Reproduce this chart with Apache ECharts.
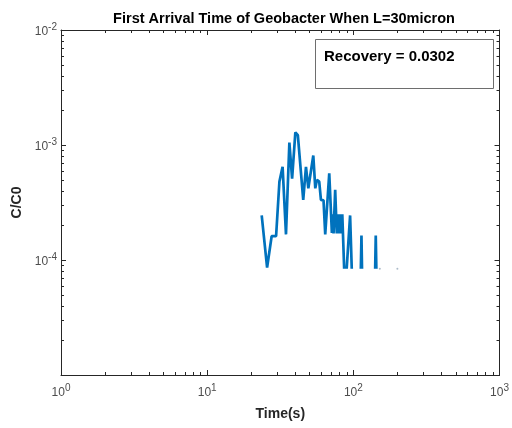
<!DOCTYPE html>
<html>
<head>
<meta charset="utf-8">
<script src="https://cdn.jsdelivr.net/npm/echarts@6/dist/echarts.min.js"></script>
<style>html,body{margin:0;padding:0;background:#fff;}#c{width:512px;height:428px;}</style>
</head>
<body>
<div id="c"></div>
<script>
// ---- data ----
var titleText = 'First Arrival Time of Geobacter When L=30micron';
var xName = 'Time(s)';
var yName = 'C/C0';
var recoveryText = 'Recovery = 0.0302';
var xRange = [1, 1000];
var yRange = [1e-5, 1e-2];
// time (s)
var times = [23.6, 25.7, 27.6, 29.6, 31.2, 32.8, 34.6, 36.5, 38.1, 40.1, 41.7, 45.4, 47.4, 49.2, 53.2, 54.9, 56.3, 58.4, 60.0, 62.5,
             64.2, 68.4, 71.3, 72.2, 73.2, 75.1, 77.0, 78.0, 79.0, 80.0, 81.0, 82.0, 83.0, 84.0, 85.0, 86.5, null,
             90.0, 95.0, 97.5, null, 112.5, 113.6, 114.6, null, 141.0, 142.3, 143.6];
// C/C0
var conc = [2.44e-4, 0.86e-4, 1.61e-4, 1.61e-4, 4.8e-4, 6.46e-4, 1.67e-4, 1.05e-3, 5.1e-4, 1.29e-3, 1.22e-3, 3.33e-4, 6.46e-4, 4.2e-4, 8.1e-4, 4.2e-4, 4.97e-4, 4.8e-4, 3.33e-4, 3.3e-4,
            1.67e-4, 5.66e-4, 1.72e-4, 2.5e-4, 1.7e-4, 4.07e-4, 1.7e-4, 2.5e-4, 1.7e-4, 2.5e-4, 1.7e-4, 2.5e-4, 1.7e-4, 2.5e-4, 2.5e-4, 0.84e-4, null,
            0.84e-4, 2.44e-4, 0.84e-4, null, 0.84e-4, 1.63e-4, 0.84e-4, null, 0.84e-4, 1.63e-4, 0.84e-4];
// isolated single samples
var dotTimes = [151.7, 200.0];
var dotConc = [0.84e-4, 0.84e-4];

var lineData = times.map(function (t, i) { return t === null ? null : [t, conc[i]]; });
var dotData = dotTimes.map(function (t, i) { return [t, dotConc[i]]; });

// minor tick positions (2..9 per decade)
function minorTicks(lo, hi) {
  var out = [];
  for (var d = Math.floor(Math.log10(lo)); d < Math.ceil(Math.log10(hi)); d++) {
    for (var k = 2; k <= 9; k++) {
      var v = k * Math.pow(10, d);
      if (v > lo && v < hi) out.push(v);
    }
  }
  return out;
}
var xMinor = minorTicks(xRange[0], xRange[1]);
var yMinor = minorTicks(yRange[0], yRange[1]);

var axisColor = '#262626';
var labelColor = '#4d4d4d';
var fontFam = 'Liberation Sans';
function expLabel(v) {
  var e = Math.round(Math.log10(v));
  return '{b|10}{e|' + e + '}';
}
var richLab = {
  b: { fontSize: 12, color: labelColor, fontFamily: fontFam, lineHeight: 16, verticalAlign: 'bottom' },
  e: { fontSize: 10, color: labelColor, fontFamily: fontFam, lineHeight: 16, verticalAlign: 'top' }
};

var chart = echarts.init(document.getElementById('c'), null, { renderer: 'canvas' });
var grid = { left: 61, right: 11, top: 30, bottom: 53 };
chart.setOption({
  animation: false,
  backgroundColor: '#ffffff',
  title: {
    text: titleText, left: 279, top: 6, textAlign: 'center',
    textStyle: { fontSize: 14.5, fontWeight: 'bold', color: '#000', fontFamily: fontFam }
  },
  grid: grid,
  xAxis: [{
    type: 'log', logBase: 10, min: xRange[0], max: xRange[1], position: 'bottom',
    name: xName, nameLocation: 'middle', nameGap: 32,
    nameTextStyle: { fontSize: 14, fontWeight: 'bold', color: axisColor, fontFamily: fontFam },
    axisLine: { show: true, lineStyle: { color: axisColor, width: 1 } },
    axisTick: { show: true, inside: true, length: 5, lineStyle: { color: axisColor } },
    splitLine: { show: false },
    axisLabel: { formatter: expLabel, rich: richLab, margin: 8 }
  }, {
    type: 'log', logBase: 10, min: xRange[0], max: xRange[1], position: 'top',
    axisLine: { show: true, lineStyle: { color: axisColor, width: 1 } },
    axisTick: { show: true, inside: true, length: 5, lineStyle: { color: axisColor } },
    splitLine: { show: false }, axisLabel: { show: false }
  }],
  yAxis: [{
    type: 'log', logBase: 10, min: yRange[0], max: yRange[1], position: 'left',
    name: yName, nameLocation: 'middle', nameGap: 37, nameRotate: 90,
    nameTextStyle: { fontSize: 14, fontWeight: 'bold', color: axisColor, fontFamily: fontFam },
    axisLine: { show: true, lineStyle: { color: axisColor, width: 1 } },
    axisTick: { show: true, inside: true, length: 5, lineStyle: { color: axisColor } },
    splitLine: { show: false },
    axisLabel: {
      formatter: function (v) { return Math.round(Math.log10(v)) === -5 ? '' : expLabel(v); },
      rich: richLab, margin: 4
    }
  }, {
    type: 'log', logBase: 10, min: yRange[0], max: yRange[1], position: 'right',
    axisLine: { show: true, lineStyle: { color: axisColor, width: 1 } },
    axisTick: { show: true, inside: true, length: 5, lineStyle: { color: axisColor } },
    splitLine: { show: false }, axisLabel: { show: false }
  }],
  series: [{
    type: 'line', xAxisIndex: 0, yAxisIndex: 0, data: lineData,
    showSymbol: false, symbol: 'none', connectNulls: false,
    lineStyle: { color: '#0072BD', width: 2.7 }, itemStyle: { color: '#0072BD' }, z: 3
  }, {
    type: 'scatter', xAxisIndex: 0, yAxisIndex: 0, data: dotData,
    symbolSize: 2, itemStyle: { color: '#9ab' }, z: 3
  }, {
    type: 'custom', xAxisIndex: 0, yAxisIndex: 0, data: [[10, 1e-4]], silent: true, clip: false, z: 1,
    renderItem: function (params, api) {
      var children = [];
      var st = { stroke: axisColor, lineWidth: 1 };
      var yb = api.coord([10, yRange[0]])[1], yt = api.coord([10, yRange[1]])[1];
      var xl = api.coord([xRange[0], 1e-4])[0], xr = api.coord([xRange[1], 1e-4])[0];
      xMinor.forEach(function (v) {
        var x = Math.round(api.coord([v, 1e-4])[0]) + 0.5;
        children.push({ type: 'line', shape: { x1: x, y1: yb, x2: x, y2: yb - 3 }, style: st });
        children.push({ type: 'line', shape: { x1: x, y1: yt, x2: x, y2: yt + 3 }, style: st });
      });
      yMinor.forEach(function (v) {
        var y = Math.round(api.coord([10, v])[1]) + 0.5;
        children.push({ type: 'line', shape: { x1: xl, y1: y, x2: xl + 3, y2: y }, style: st });
        children.push({ type: 'line', shape: { x1: xr, y1: y, x2: xr - 3, y2: y }, style: st });
      });
      return { type: 'group', children: children };
    }
  }],
  graphic: [{
    type: 'rect', left: 315, top: 39, shape: { width: 178, height: 49 },
    style: { fill: '#fff', stroke: '#6e6e6e', lineWidth: 1 }, z: 10
  }, {
    type: 'text', left: 324, top: 49, z: 11,
    style: { text: recoveryText, fontSize: 15, fontWeight: 'bold', fill: '#000', fontFamily: fontFam }
  }]
});
</script>
</body>
</html>
